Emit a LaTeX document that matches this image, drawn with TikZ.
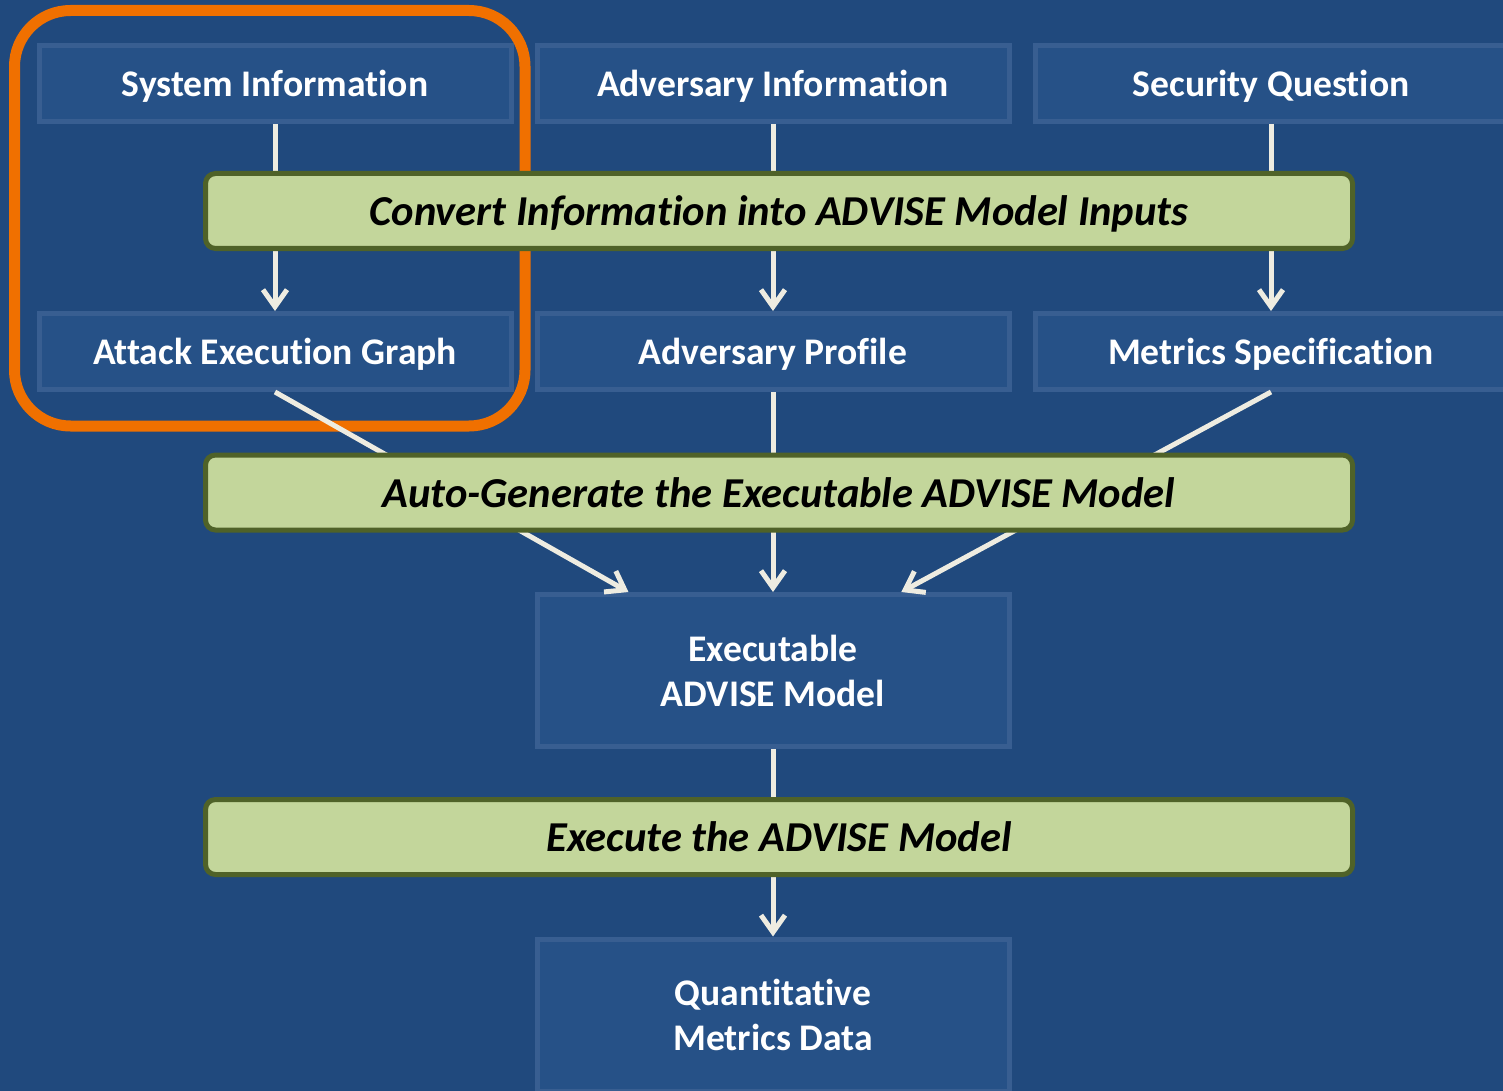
\documentclass[tikz,border=0pt]{standalone}
\usepackage{fontspec}
\setmainfont{Carlito}[Ligatures=NoCommon]
\usetikzlibrary{arrows.meta,calc}
\definecolor{bgblue}{RGB}{32,73,125}
\definecolor{boxfill}{RGB}{38,81,135}
\definecolor{boxline}{RGB}{56,94,145}
\definecolor{barfill}{RGB}{195,214,155}
\definecolor{barline}{RGB}{79,98,40}
\definecolor{connc}{RGB}{238,236,225}
\definecolor{hilite}{RGB}{240,112,0}
\tikzset{
  infobox/.style={draw=boxline, fill=boxfill, line width=5pt, minimum width=472pt, minimum height=76pt, inner sep=0pt, text=white, font=\bfseries\fontsize{37.6}{45}\selectfont, align=center, text depth=0pt},
  bigbox/.style={infobox, minimum height=152pt},
  stagebar/.style={draw=barline, fill=barfill, line width=5pt, rounded corners=10pt, minimum width=1147pt, minimum height=75pt, inner sep=0pt, text=black, font=\bfseries\itshape\fontsize{42.6}{48}\selectfont, text depth=0pt},
  conn/.style={draw=connc, line width=5pt},
  arr/.style={conn, -{Straight Barb[length=17pt,width=24pt]}}
}
\begin{document}
\begin{tikzpicture}[x=1pt,y=-1pt]
\useasboundingbox (0,0) rectangle (1503,1091);
\fill[bgblue] (0,0) rectangle (1503,1091);
\clip (0,0) rectangle (1503,1091);
% boxes
\node[infobox] (sys) at (275,83.5) {System Information};
\node[infobox] (adv) at (773,83.5) {Adversary Information};
\node[infobox] (sec) at (1271,83.5) {Security Question};
\node[infobox] (aeg) at (275,351.5) {Attack Execution Graph};
\node[infobox] (prof) at (773,351.5) {Adversary Profile};
\node[infobox] (met) at (1271,351.5) {Metrics Specification};
\node[bigbox] (exec) at (773,670.5) {Executable\\ADVISE Model};
\node[bigbox] (quant) at (773,1015) {Quantitative\\Metrics Data};
% highlight
\draw[hilite, line width=11pt, rounded corners=56pt] (14.5,10.5) rectangle (525,426);
% connectors (behind the bars)
\draw[arr] (sys) -- (aeg);
\draw[arr] (adv) -- (prof);
\draw[arr] (sec) -- (met);
\draw[arr] (aeg.south) -- ($(exec.north west)!0.197!(exec.north east)$);
\draw[arr] (prof) -- (exec);
\draw[arr] (met.south) -- ($(exec.north west)!0.769!(exec.north east)$);
\draw[arr] (exec) -- (quant);
% stage bars
\node[stagebar] (b1) at (779,211) {Convert Information into ADVISE Model Inputs};
\node[stagebar] (b2) at (779,492.5) {Auto-Generate the Executable ADVISE Model};
\node[stagebar] (b3) at (779,837) {Execute the ADVISE Model};
\end{tikzpicture}
\end{document}
